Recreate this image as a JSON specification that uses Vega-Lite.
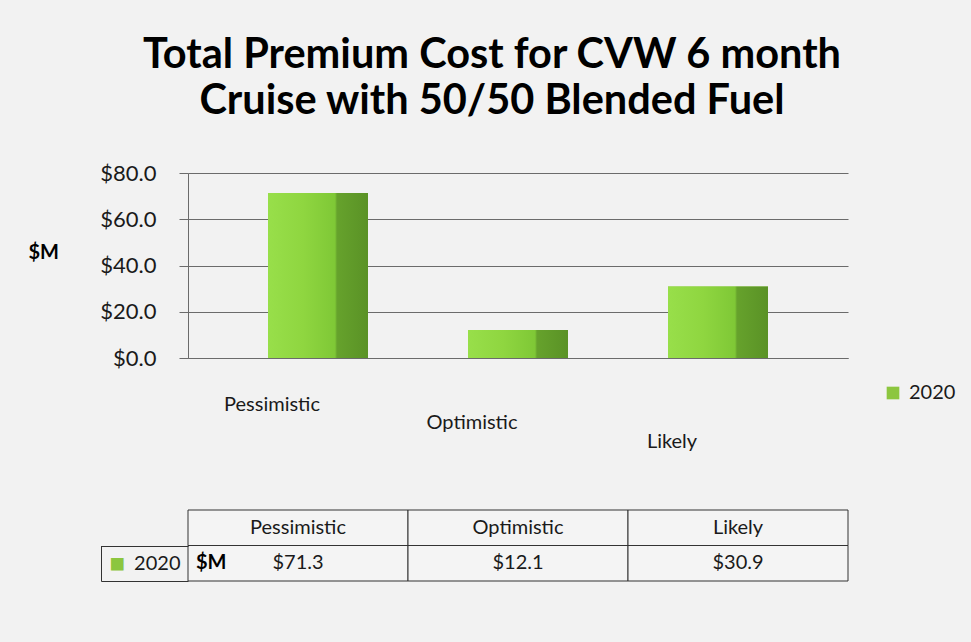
{
  "$schema": "https://vega.github.io/schema/vega-lite/v6.json",
  "background": "#f2f2f2",
  "padding": {"left": 28, "top": 34, "right": 20, "bottom": 61},
  "title": {
    "text": ["Total Premium Cost for CVW 6 month", "Cruise with 50/50 Blended Fuel"],
    "font": "Lato",
    "fontSize": 41.5,
    "fontWeight": "bold",
    "lineHeight": 46,
    "color": "#000000",
    "anchor": "middle",
    "offset": 40
  },
  "datasets": {
    "costs": [
      {"scenario": "Pessimistic", "cost": 71.3},
      {"scenario": "Optimistic", "cost": 12.1},
      {"scenario": "Likely", "cost": 30.9}
    ]
  },
  "data": {"name": "costs"},
  "spacing": 49,
  "resolve": {"legend": {"color": "independent"}},
  "vconcat": [
    {
      "width": 660,
      "height": 185,
      "encoding": {
        "x": {
          "field": "scenario",
          "type": "nominal",
          "sort": null,
          "scale": {"paddingInner": 0.5, "paddingOuter": 0.4},
          "axis": {
            "title": null,
            "labelAngle": 0,
            "ticks": false,
            "tickSize": 0,
            "labelFontSize": 20,
            "labelColor": "#1a1a1a",
            "labelOffset": -46,
            "labelPadding": {
              "condition": [
                {"test": "datum.value === 'Pessimistic'", "value": 36},
                {"test": "datum.value === 'Optimistic'", "value": 54}
              ],
              "value": 73
            },
            "domainColor": "#6b6b6b",
            "domainWidth": 1.2
          }
        },
        "y": {
          "field": "cost",
          "type": "quantitative",
          "scale": {"domain": [0, 80]},
          "axis": {
            "values": [0, 20, 40, 60, 80],
            "format": "$.1f",
            "labelFontSize": 22,
            "labelColor": "#1a1a1a",
            "labelPadding": 23,
            "tickSize": 9,
            "tickColor": "#6b6b6b",
            "domainColor": "#6b6b6b",
            "gridColor": "#6b6b6b",
            "gridWidth": 1,
            "title": "$M",
            "titleAngle": 0,
            "titleAlign": "left",
            "titleBaseline": "middle",
            "titleX": -160,
            "titleY": 79,
            "titleFontSize": 20,
            "titleFontWeight": "bold",
            "titleColor": "#000000"
          }
        }
      },
      "layer": [
        {
          "mark": {"type": "bar"},
          "encoding": {
            "color": {
              "datum": "2020",
              "type": "nominal",
              "scale": {"range": ["#8cc63f"]},
              "legend": {
                "title": null,
                "orient": "none",
                "legendX": 695,
                "legendY": 210,
                "padding": 0,
                "symbolType": "square",
                "symbolSize": 160,
                "symbolStrokeWidth": 0,
                "labelFontSize": 20,
                "labelColor": "#1a1a1a",
                "labelOffset": 6
              }
            }
          }
        },
        {
          "mark": {
            "type": "bar",
            "color": {
              "gradient": "linear",
              "x1": 0, "x2": 1, "y1": 0, "y2": 0,
              "stops": [
                {"offset": 0, "color": "#98df4a"},
                {"offset": 0.35, "color": "#8fd640"},
                {"offset": 0.67, "color": "#7fc836"},
                {"offset": 0.69, "color": "#66a22c"},
                {"offset": 1, "color": "#5a9226"}
              ]
            }
          }
        }
      ]
    },
    {
      "width": 660,
      "height": 71,
      "encoding": {
        "x": {
          "field": "scenario",
          "type": "nominal",
          "sort": null,
          "scale": {"paddingInner": 0, "paddingOuter": 0},
          "axis": null
        }
      },
      "layer": [
        {
          "mark": {"type": "rect", "fill": "#f4f4f4", "stroke": "#333333", "strokeWidth": 1},
          "encoding": {
            "y": {
              "datum": "header",
              "type": "nominal",
              "scale": {"domain": ["header", "value"], "paddingInner": 0, "paddingOuter": 0},
              "axis": {
                "labelExpr": "datum.value === 'value' ? '2020' : ''",
                "labelFontSize": 20,
                "labelColor": "#1a1a1a",
                "offset": 87,
                "domain": true,
                "domainColor": "#333333",
                "domainWidth": 1,
                "domainDash": [0, 35.5, 36, 0],
                "tickBand": "extent",
                "tickSize": -87,
                "tickColor": "#333333",
                "tickOpacity": {"condition": {"test": "datum.value !== 'header' && datum.value !== 'value'", "value": 0}, "value": 1},
                "labelPadding": 8,
                "title": "■",
                "titleAngle": 0,
                "titleAlign": "left",
                "titleBaseline": "middle",
                "titleX": 8,
                "titleY": 53,
                "titleFontSize": 26,
                "titleColor": "#8cc63f"
              }
            }
          }
        },
        {
          "mark": {"type": "rect", "fill": "#f4f4f4", "stroke": "#333333", "strokeWidth": 1},
          "encoding": {"y": {"datum": "value", "type": "nominal"}}
        },
        {
          "mark": {"type": "text", "fontSize": 20, "color": "#1a1a1a"},
          "encoding": {
            "y": {"datum": "header", "type": "nominal"},
            "text": {"field": "scenario", "type": "nominal"}
          }
        },
        {
          "mark": {"type": "text", "fontSize": 20, "color": "#1a1a1a"},
          "encoding": {
            "y": {"datum": "value", "type": "nominal"},
            "text": {"field": "cost", "type": "quantitative", "format": "$.1f"}
          }
        },
        {
          "transform": [{"filter": "datum.scenario === 'Pessimistic'"}],
          "mark": {"type": "text", "fontSize": 20, "fontWeight": "bold", "color": "#000000", "align": "left", "dx": 8},
          "encoding": {
            "x": {"field": "scenario", "type": "nominal", "sort": null, "bandPosition": 0},
            "y": {"datum": "value", "type": "nominal"},
            "text": {"value": "$M"}
          }
        }
      ]
    }
  ],
  "config": {
    "font": "Lato",
    "view": {"stroke": null}
  }
}
